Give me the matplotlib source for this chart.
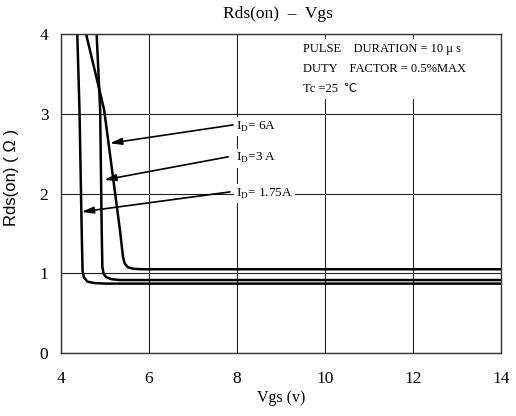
import matplotlib
matplotlib.use("Agg")
import matplotlib.pyplot as plt

# Data
vgs_6a = [4.57, 4.98, 5.34, 5.41, 5.45, 5.52, 5.65, 5.85, 14.0]
rds_6a = [4.00, 3.05, 1.54, 1.20, 1.12, 1.075, 1.055, 1.05, 1.05]

vgs_3a = [4.81, 4.89, 4.925, 4.94, 4.97, 5.03, 5.15, 5.35, 14.0]
rds_3a = [4.00, 3.05, 1.54, 1.08, 0.99, 0.95, 0.925, 0.915, 0.915]

vgs_175a = [4.37, 4.42, 4.47, 4.49, 4.52, 4.60, 4.75, 5.00, 14.0]
rds_175a = [4.00, 3.05, 1.54, 1.03, 0.95, 0.895, 0.878, 0.87, 0.87]

x_ticks = [4, 6, 8, 10, 12, 14]
y_ticks = [0, 1, 2, 3, 4]

labels = ["I$_\\mathregular{D}$= 6A", "I$_\\mathregular{D}$=3 A", "I$_\\mathregular{D}$= 1.75A"]
label_tail = [(7.91, 2.86), (7.80, 2.46), (7.84, 2.02)]
arrow_head = [(5.11, 2.63), (4.98, 2.17), (4.47, 1.77)]

serif = "Liberation Serif"
plt.rcParams['font.family'] = [serif, 'DejaVu Serif']
plt.rcParams['mathtext.fontset'] = 'custom'
plt.rcParams['mathtext.rm'] = serif

fig = plt.figure(figsize=(5.16, 4.16), dpi=100)
ax = fig.add_axes([61/516, 63/416, 440/516, 319/416])

ax.set_xlim(4, 14)
ax.set_ylim(0, 4)
ax.set_xticks(x_ticks)
ax.set_yticks(y_ticks)
ax.tick_params(length=0, labelsize=12.5)
ax.tick_params(axis='x', pad=13)
ax.tick_params(axis='y', pad=9)
ax.grid(True, color='#222222', linewidth=0.8, zorder=0)
for s in ax.spines.values():
    s.set_linewidth(1.0)
    s.set_color('#333333')
    s.set_zorder(6)

for xs, ys in [(vgs_6a, rds_6a), (vgs_3a, rds_3a), (vgs_175a, rds_175a)]:
    ax.plot(xs, ys, color='black', linewidth=1.8, solid_joinstyle='round', zorder=3)

for lab, tail, head in zip(labels, label_tail, arrow_head):
    ax.annotate("", xy=head, xytext=tail,
                arrowprops=dict(arrowstyle='-|>,head_length=0.7,head_width=0.2',
                                color='black', lw=1.2, shrinkA=0, shrinkB=0), zorder=4)
    ax.text(7.97, tail[1] - 0.02, lab, fontsize=9.5, va='center', ha='left',
            bbox=dict(facecolor='white', edgecolor='none', pad=1.5), zorder=5)

box_lines = ["PULSE    DURATION = 10 \u03bc s",
             "DUTY    FACTOR = 0.5%MAX",
             "Tc =25  \u2103"]
ax.text(9.5, 3.24, "\n".join(box_lines), fontsize=9, va='bottom', ha='left',
        linespacing=1.85, family=[serif, 'Noto Sans CJK SC', 'DejaVu Sans'],
        bbox=dict(facecolor='white', edgecolor='none', pad=3), zorder=5)

fig.text(278/516, 1 - 14/416, "Rds(on)  \u2013  Vgs", ha='center', va='center', fontsize=12.5)
ax.set_xlabel("Vgs (v)", fontsize=11.5, labelpad=2)
ax.set_ylabel("Rds(on) ( \u03a9 )", fontsize=12, family=['Liberation Sans', 'DejaVu Sans'])
ax.yaxis.set_label_coords(-0.095, (353 - 177) / 319)

fig.savefig("out.png", dpi=100)
